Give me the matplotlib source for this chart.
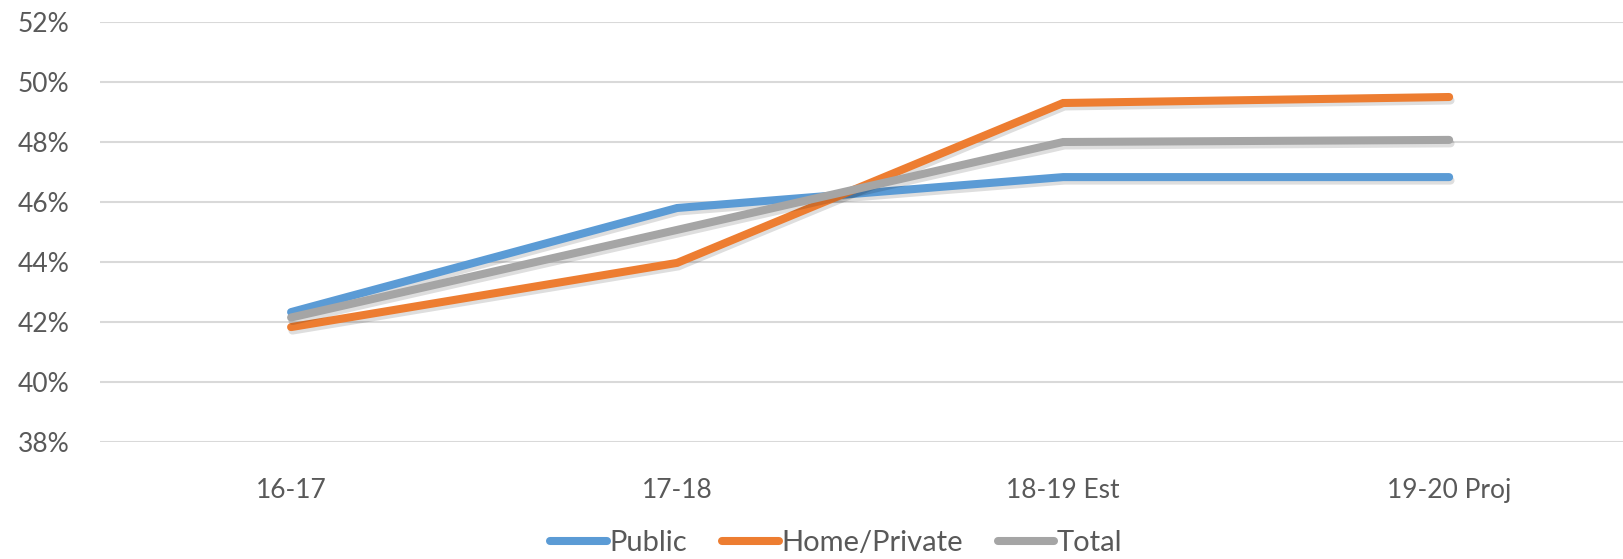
import matplotlib
matplotlib.use("Agg")
import matplotlib.pyplot as plt
import matplotlib.patheffects as pe
from matplotlib.ticker import FuncFormatter

# Data (percent)
years = ["16-17", "17-18", "18-19 Est", "19-20 Proj"]
public = [42.33, 45.8, 46.83, 46.83]
home_private = [41.83, 43.97, 49.3, 49.5]
total = [42.15, 45.07, 48.0, 48.07]

colors = {"Public": "#5B9BD5", "Home/Private": "#ED7D31", "Total": "#A5A5A5"}
text_color = "#595959"

plt.rcParams["font.family"] = ["Lato", "DejaVu Sans"]

fig = plt.figure(figsize=(16.24, 5.59), dpi=100)
ax = fig.add_axes([100 / 1624, 117 / 559, 1 - 100 / 1624, 420 / 559])

x = range(len(years))
shadow = [pe.SimpleLineShadow(offset=(1, -2.5), shadow_color="black", alpha=0.13), pe.Normal()]
for name, vals in [("Public", public), ("Home/Private", home_private), ("Total", total)]:
    ax.plot(x, vals, color=colors[name], lw=5.8, solid_capstyle="round",
            solid_joinstyle="miter", label=name, path_effects=shadow)

ax.set_ylim(38, 52)
ax.set_yticks(range(38, 53, 2))
ax.yaxis.set_major_formatter(FuncFormatter(lambda v, p: f"{v:.0f}%"))
ax.set_xlim(-0.495, 3.453)
ax.set_xticks(list(x))
ax.set_xticklabels(years)

ax.grid(axis="y", color="#D9D9D9", lw=1.5)
ax.set_axisbelow(True)
for s in ax.spines.values():
    s.set_visible(False)
ax.tick_params(axis="both", length=0, labelsize=19, colors=text_color)
ax.tick_params(axis="y", pad=22)
ax.tick_params(axis="x", pad=26)

leg = fig.legend(loc="center", bbox_to_anchor=(836 / 1624, 16 / 559), ncol=3,
                 frameon=False, fontsize=21, handlelength=1.95, handletextpad=0.08,
                 columnspacing=1.2)
for t in leg.get_texts():
    t.set_color(text_color)
for h in leg.legend_handles:
    h.set_path_effects([])
    h.set_solid_capstyle("round")

fig.savefig("out.png", dpi=100)
